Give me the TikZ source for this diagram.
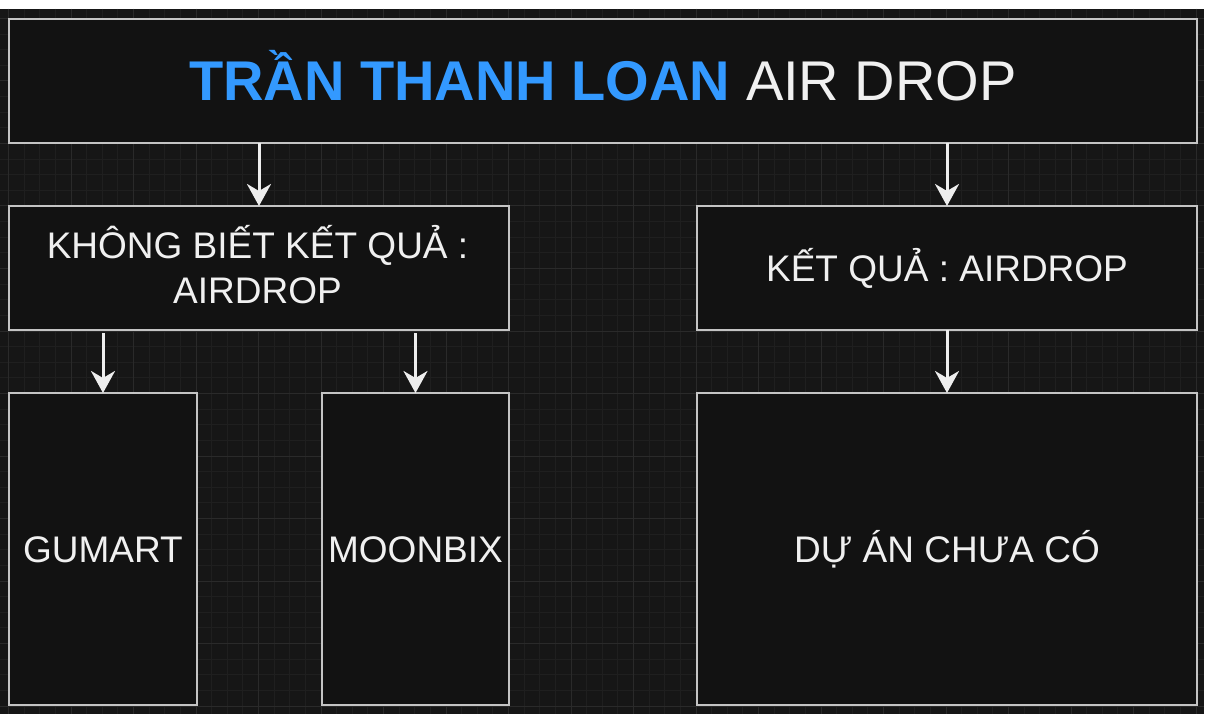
\documentclass[tikz,border=0pt]{standalone}
\usepackage{fontspec}
\setmainfont{Liberation Sans}
\usetikzlibrary{arrows.meta,calc}
\definecolor{canvasbg}{HTML}{161616}
\definecolor{gridminor}{HTML}{1F1F1F}
\definecolor{gridmajor}{HTML}{2A2A2A}
\definecolor{boxfill}{HTML}{121212}
\definecolor{boxline}{HTML}{C4C4C4}
\definecolor{arrowcol}{HTML}{EEEEEE}
\definecolor{fgtext}{HTML}{F0F0F0}
\definecolor{titleblue}{HTML}{3399FF}
\tikzset{
  box/.style={draw=boxline, line width=2pt, fill=boxfill, rectangle, inner sep=0pt, outer sep=0pt,
    text=fgtext, font=\fontsize{37}{44}\selectfont, text height=26.5pt, text depth=0pt},
  txt/.style={text=fgtext, font=\fontsize{37}{44}\selectfont, inner sep=0pt},
  arr/.style={draw=arrowcol, line width=3pt, -{Stealth[length=22pt, width=24pt, inset=7pt]}},
  minorline/.style={draw=gridminor, line width=1pt},
  majorline/.style={draw=gridmajor, line width=1pt}
}
\begin{document}
\begin{tikzpicture}[x=1pt, y=-1pt]
\useasboundingbox (0,0) rectangle (1205,714);
\fill[white] (0,0) rectangle (1205,714);
% canvas with grid
\begin{scope}
  \clip (0,9) rectangle (1204,714);
  \fill[canvasbg] (0,9) rectangle (1204,714);
  \foreach \i in {0,...,76} {\draw[minorline] ({8.5+15.625*\i},9) -- ({8.5+15.625*\i},714);}
  \foreach \j in {-1,...,45} {\draw[minorline] (0,{18.5+15.625*\j}) -- (1204,{18.5+15.625*\j});}
  \foreach \i in {0,...,19} {\draw[majorline] ({8.5+62.5*\i},9) -- ({8.5+62.5*\i},714);}
  \foreach \j in {0,...,11} {\draw[majorline] (0,{18.5+62.5*\j}) -- (1204,{18.5+62.5*\j});}
\end{scope}
% boxes
\node[box, minimum width=1188pt, minimum height=124pt, text height=40pt,
      font=\fontsize{56}{67}\selectfont] (tb) at (603,81)
  {{\bfseries\color{titleblue}TRẦN THANH LOAN} AIR DROP};
\node[box, minimum width=500pt, minimum height=124pt] (kb) at (259,268) {};
\node[box, minimum width=500pt, minimum height=124pt] (rb) at (947,268) {KẾT QUẢ : AIRDROP};
\node[box, minimum width=188pt, minimum height=312pt] (gb) at (103,549) {GUMART};
\node[box, minimum width=187pt, minimum height=312pt] (mb) at (415.5,549) {MOONBIX};
\node[box, minimum width=500pt, minimum height=312pt] (db) at (947,549) {DỰ ÁN CHƯA CÓ};
% two-line label of the left middle box
\node[txt, anchor=base] (k1) at ($(kb.center)+(-1.5,-9.7)$) {KHÔNG BIẾT KẾT QUẢ :};
\node[txt, anchor=base] (k2) at ($(kb.center)+(-1.5,35.3)$) {AIRDROP};
% connectors
\draw[arr] (tb.south -| kb.north) -- (kb.north);
\draw[arr] (tb.south -| rb.north) -- (rb.north);
\draw[arr] ([yshift=-3pt]kb.south -| gb.north) -- (gb.north);
\draw[arr] ([yshift=-3pt]kb.south -| mb.north) -- (mb.north);
\draw[arr] (rb.south) -- (db.north);
\end{tikzpicture}
\end{document}
